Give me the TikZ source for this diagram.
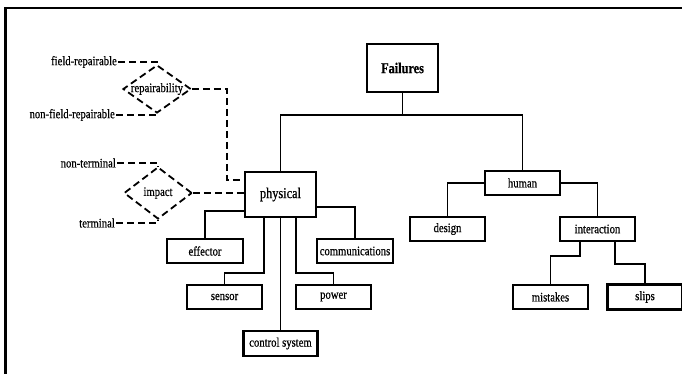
\documentclass[tikz,border=0pt]{standalone}
\usepackage{fontspec}
\setmainfont{Liberation Serif}[FakeStretch=0.82,FakeBold=0.6]
\usetikzlibrary{shapes.geometric,calc}
\begin{document}
\begin{tikzpicture}[x=1pt,y=-1pt,
  box/.style={draw,line width=2.2pt,inner sep=0pt,font=\fontsize{13}{15}\selectfont},
  bigbox/.style={box,font=\fontsize{15}{17}\selectfont},
  conn/.style={line width=1.5pt},
  dsh/.style={line width=1.8pt,dash pattern=on 7pt off 4pt},
  dia/.style={draw,diamond,line width=1.8pt,dash pattern=on 7pt off 4pt,inner sep=0pt},
  lbl/.style={inner sep=1pt,font=\fontsize{13}{15}\selectfont}]
\useasboundingbox (0,0) rectangle (682,374);
\fill[white] (0,0) rectangle (682,374);
\draw[line width=2.4pt] (5.5,374) -- (5.5,7.8) -- (682,7.8);

% boxes
\node[bigbox,minimum width=71pt,minimum height=48pt] (fail) at (402.5,68) {\textbf{Failures}};
\node[bigbox,minimum width=71pt,minimum height=45pt] (phys) at (280.5,194.5) {physical};
\node[box,minimum width=75pt,minimum height=24pt] (hum) at (522.5,183) {human};
\node[box,minimum width=75pt,minimum height=24pt] (des) at (447.5,229) {design};
\node[box,minimum width=75pt,minimum height=24pt] (int) at (597.5,229) {interaction};
\node[box,minimum width=75pt,minimum height=24pt] (mis) at (550.5,297) {mistakes};
\node[box,minimum width=75pt,minimum height=25pt] (sli) at (645,297) {slips};
\node[box,minimum width=76pt,minimum height=24pt] (eff) at (205,251) {effector};
\node[box,minimum width=76pt,minimum height=24pt] (com) at (355,251) {communications};
\node[box,minimum width=75pt,minimum height=24pt] (sen) at (224.5,297) {sensor};
\node[box,minimum width=75pt,minimum height=24pt] (pow) at (333.5,297) {power};
\node[box,minimum width=74pt,minimum height=25pt] (ctl) at (280.5,343.5) {control system};

% tree connectors
\draw[conn] (fail.south) -- ([yshift=-22pt]fail.south);
\draw[conn] (phys.north) |- ([yshift=-22pt]fail.south) -| (hum.north);
\draw[conn] (hum.west) -| (des.north);
\draw[conn] (hum.east) -| (int.north);
\draw[conn] ([xshift=-17.5pt]int.south) -- ++(0,14) -| (mis.north);
\draw[conn] ([xshift=17.5pt]int.south) -- ++(0,22) -| (sli.north);
\draw[conn] ([yshift=-16.5pt]phys.west) -| (eff.north);
\draw[conn] ([yshift=-12.5pt]phys.east) -| (com.north);
\draw[conn] ([xshift=-16.5pt]phys.south) -- ++(0,55) -| (sen.north);
\draw[conn] ([xshift=15.5pt]phys.south) -- ++(0,55) -| (pow.north);
\draw[conn] (phys.south) -- (ctl.north);

% diamonds
\node[dia,minimum width=68pt,minimum height=48pt] (rep) at (157,89) {};
\node[lbl] (reptxt) at (rep.center) {repairability};
\node[dia,minimum width=68pt,minimum height=52pt] (imp) at (158,193) {};
\node[lbl] (imptxt) at (imp.center) {impact};

% leaf labels
\node[lbl,anchor=east] (fr) at (118,62) {field-repairable};
\node[lbl,anchor=east] (nfr) at (116,115) {non-field-repairable};
\node[lbl,anchor=east] (nt) at (117,163) {non-terminal};
\node[lbl,anchor=east] (te) at (116,223) {terminal};

% dashed connectors
\draw[dsh] (fr.east) -| (rep.north);
\draw[dsh] (nfr.east) -| (rep.south);
\draw[dsh] (nt.east) -| (imp.north);
\draw[dsh] (te.east) -| (imp.south);
\draw[dsh] (rep.east) -| ([xshift=-17pt,yshift=14.5pt]phys.west) -- ([yshift=14.5pt]phys.west);
\draw[dsh] (imp.east) -- (imp.east -| phys.west);
\end{tikzpicture}
\end{document}
